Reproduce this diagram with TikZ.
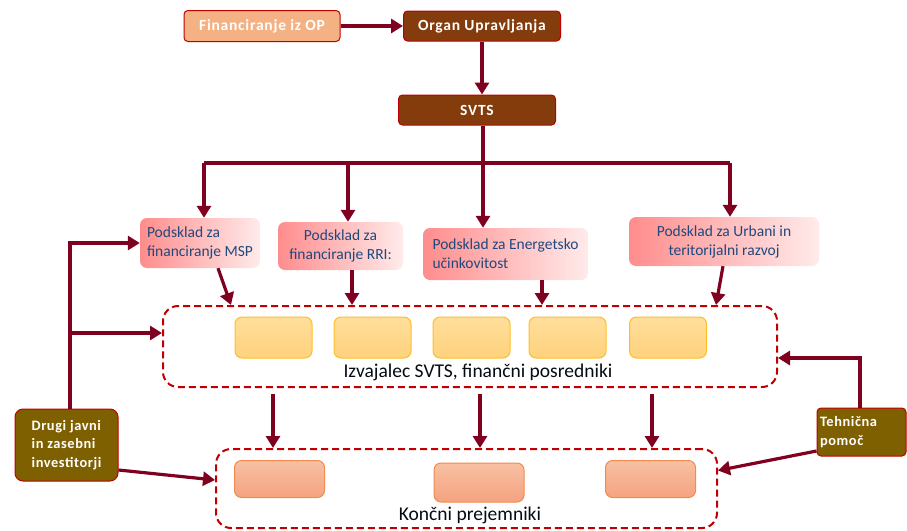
\documentclass[tikz,border=0pt]{standalone}
\usepackage{fontspec}
\setmainfont{Carlito}
\usetikzlibrary{arrows.meta}

\definecolor{bordeaux}{RGB}{128,0,32}
\definecolor{rouge}{RGB}{192,0,0}
\definecolor{brun}{RGB}{132,60,12}
\definecolor{olive}{RGB}{127,96,0}
\definecolor{saumon}{RGB}{244,177,131}
\definecolor{bleu}{RGB}{31,73,125}
\definecolor{or}{RGB}{255,190,40}
\definecolor{jauneH}{RGB}{255,222,155}
\definecolor{jauneB}{RGB}{255,210,125}
\definecolor{roseH}{RGB}{248,192,162}
\definecolor{roseB}{RGB}{244,163,128}
\definecolor{roseT}{RGB}{240,140,80}

\tikzset{
    boite/.style={draw=rouge, line width=1pt, rounded corners=4pt, text=white,
        font=\fontsize{15.5}{16}\selectfont\bfseries\addfontfeatures{LetterSpace=5}, inner sep=2pt},
    fin/.style={boite, fill=saumon, minimum width=156pt, minimum height=31pt},
    organ/.style={boite, fill=brun, minimum width=157pt, minimum height=30pt},
    invest/.style={boite, fill=olive, rounded corners=8pt, align=left,
        font=\fontsize{14.4}{18.5}\selectfont\bfseries\addfontfeatures{LetterSpace=4}},
    podsklad/.style={rounded corners=7pt, left color=red!45!white, right color=red!8!white,
        text=bleu, font=\fontsize{15.5}{19}\selectfont, inner sep=3pt},
    cadre/.style={draw=rouge, dashed, dash pattern=on 7pt off 4pt, line width=2pt, rounded corners=15pt},
    jaune/.style={draw=or, line width=1pt, rounded corners=7pt,
        top color=jauneH, bottom color=jauneB,
        minimum width=77pt, minimum height=41pt},
    rose/.style={draw=roseT, line width=1pt, rounded corners=7pt,
        top color=roseH, bottom color=roseB,
        minimum width=90pt, minimum height=37pt},
    ligne/.style={bordeaux, line width=3.2pt},
    fleche/.style={ligne, -{Triangle[length=12pt,width=14pt]}},
    etiquette/.style={text=black!85!bleu, font=\fontsize{19.5}{22}\selectfont, inner sep=0pt}
}

\begin{document}
\begin{tikzpicture}[x=1pt, y=-1pt]
    \useasboundingbox (0,0) rectangle (907,530);

    % Haut du schema
    \node[fin] (fin) at (262,26) {Financiranje iz OP};
    \node[organ] (ou) at (482,26) {Organ Upravljanja};
    \node[organ] (svts) at (477,110) {SVTS};

    \draw[fleche] (fin.east) -- (ou.west);
    \draw[fleche] (ou.south) -- (ou.south |- svts.north);

    % Podskladi
    \node[podsklad, minimum width=120pt, minimum height=50pt, align=left]
        (msp) at (200,243) {Podsklad za\\financiranje MSP};
    \node[podsklad, minimum width=125pt, minimum height=48pt, align=center]
        (rri) at (340.5,246) {Podsklad za\\financiranje RRI:};
    \node[podsklad, minimum width=165pt, minimum height=52pt, align=left]
        (ene) at (505.5,254) {Podsklad za Energetsko\\učinkovitost};
    \node[podsklad, minimum width=190pt, minimum height=49pt, align=center]
        (urb) at (724,241.5) {Podsklad za Urbani in\\teritorijalni razvoj};

    % Razdelitev pod SVTS
    \coordinate (bus) at (483,163);
    \coordinate (busL) at (204,163);
    \coordinate (busM) at (348,163);
    \coordinate (busR) at (730,163);
    \draw[ligne] (svts.south -| bus) -- (bus);
    \draw[ligne] (busL) -- (busR);
    \draw[fleche] (busL) -- (busL |- msp.north);
    \draw[fleche] (busM) -- (busM |- rri.north);
    \draw[fleche] (bus) -- (bus |- ene.north);
    \draw[fleche] (busR) -- (busR |- urb.north);

    % Izvajalec SVTS
    \node[cadre, minimum width=614pt, minimum height=81pt] (izv) at (470,346.5) {};
    \foreach \x [count=\i] in {273.5,372.5,471.5,567.5,668}
        \node[jaune] (y\i) at (\x,337.5) {};
    \node[etiquette] (izvlab) at (478,372) {Izvajalec SVTS, finančni posredniki};

    \draw[fleche] ([xshift=18pt]msp.south) -- ([xshift=-239pt]izv.north);
    \draw[fleche] ([xshift=11.5pt]rri.south) -- ([xshift=11.5pt]rri.south |- izv.north);
    \draw[fleche] ([xshift=36.5pt]ene.south) -- ([xshift=36.5pt]ene.south |- izv.north);
    \draw[fleche] ([xshift=-1pt]urb.south) -- ([xshift=246pt]izv.north);

    % Koncni prejemniki
    \node[cadre, minimum width=501pt, minimum height=79pt] (kon) at (466.5,488.5) {};
    \node[rose] (r1) at (279.5,479) {};
    \node[rose, minimum height=39pt] (r2) at (479,482.5) {};
    \node[rose] (r3) at (650.5,479) {};
    \node[etiquette] (konlab) at (470,515) {Končni prejemniki};

    \foreach \dx in {-197,10,182}
        \draw[fleche] ([xshift=\dx pt, yshift=-6pt]izv.south) -- ([xshift=\dx pt]izv.south |- kon.north);

    % Investitorji in tehnicna pomoc
    \node[invest, minimum width=103pt, minimum height=72pt] (drugi) at (66.5,445)
        {Drugi javni\\in zasebni\\investitorji};
    \node[invest, rounded corners=4pt, minimum width=89pt, minimum height=48pt, text width=83pt]
        (teh) at (861.5,432) {Tehnična\\pomoč};

    \draw[fleche] ([xshift=3.5pt]drugi.north) |- (msp.west);
    \draw[fleche] ([xshift=3.5pt]drugi.north |- izv.west) ++(0,-13.5) -- ([yshift=13.5pt]izv.west);
    \draw[fleche] ([yshift=-25pt]drugi.east) -- ([yshift=8.5pt]kon.west);
    \draw[fleche] ([xshift=-1.5pt]teh.north) |- ([yshift=-11.5pt]izv.east);
    \draw[fleche] ([yshift=-19pt]teh.west) -- ([yshift=18pt]kon.east);
\end{tikzpicture}
\end{document}
